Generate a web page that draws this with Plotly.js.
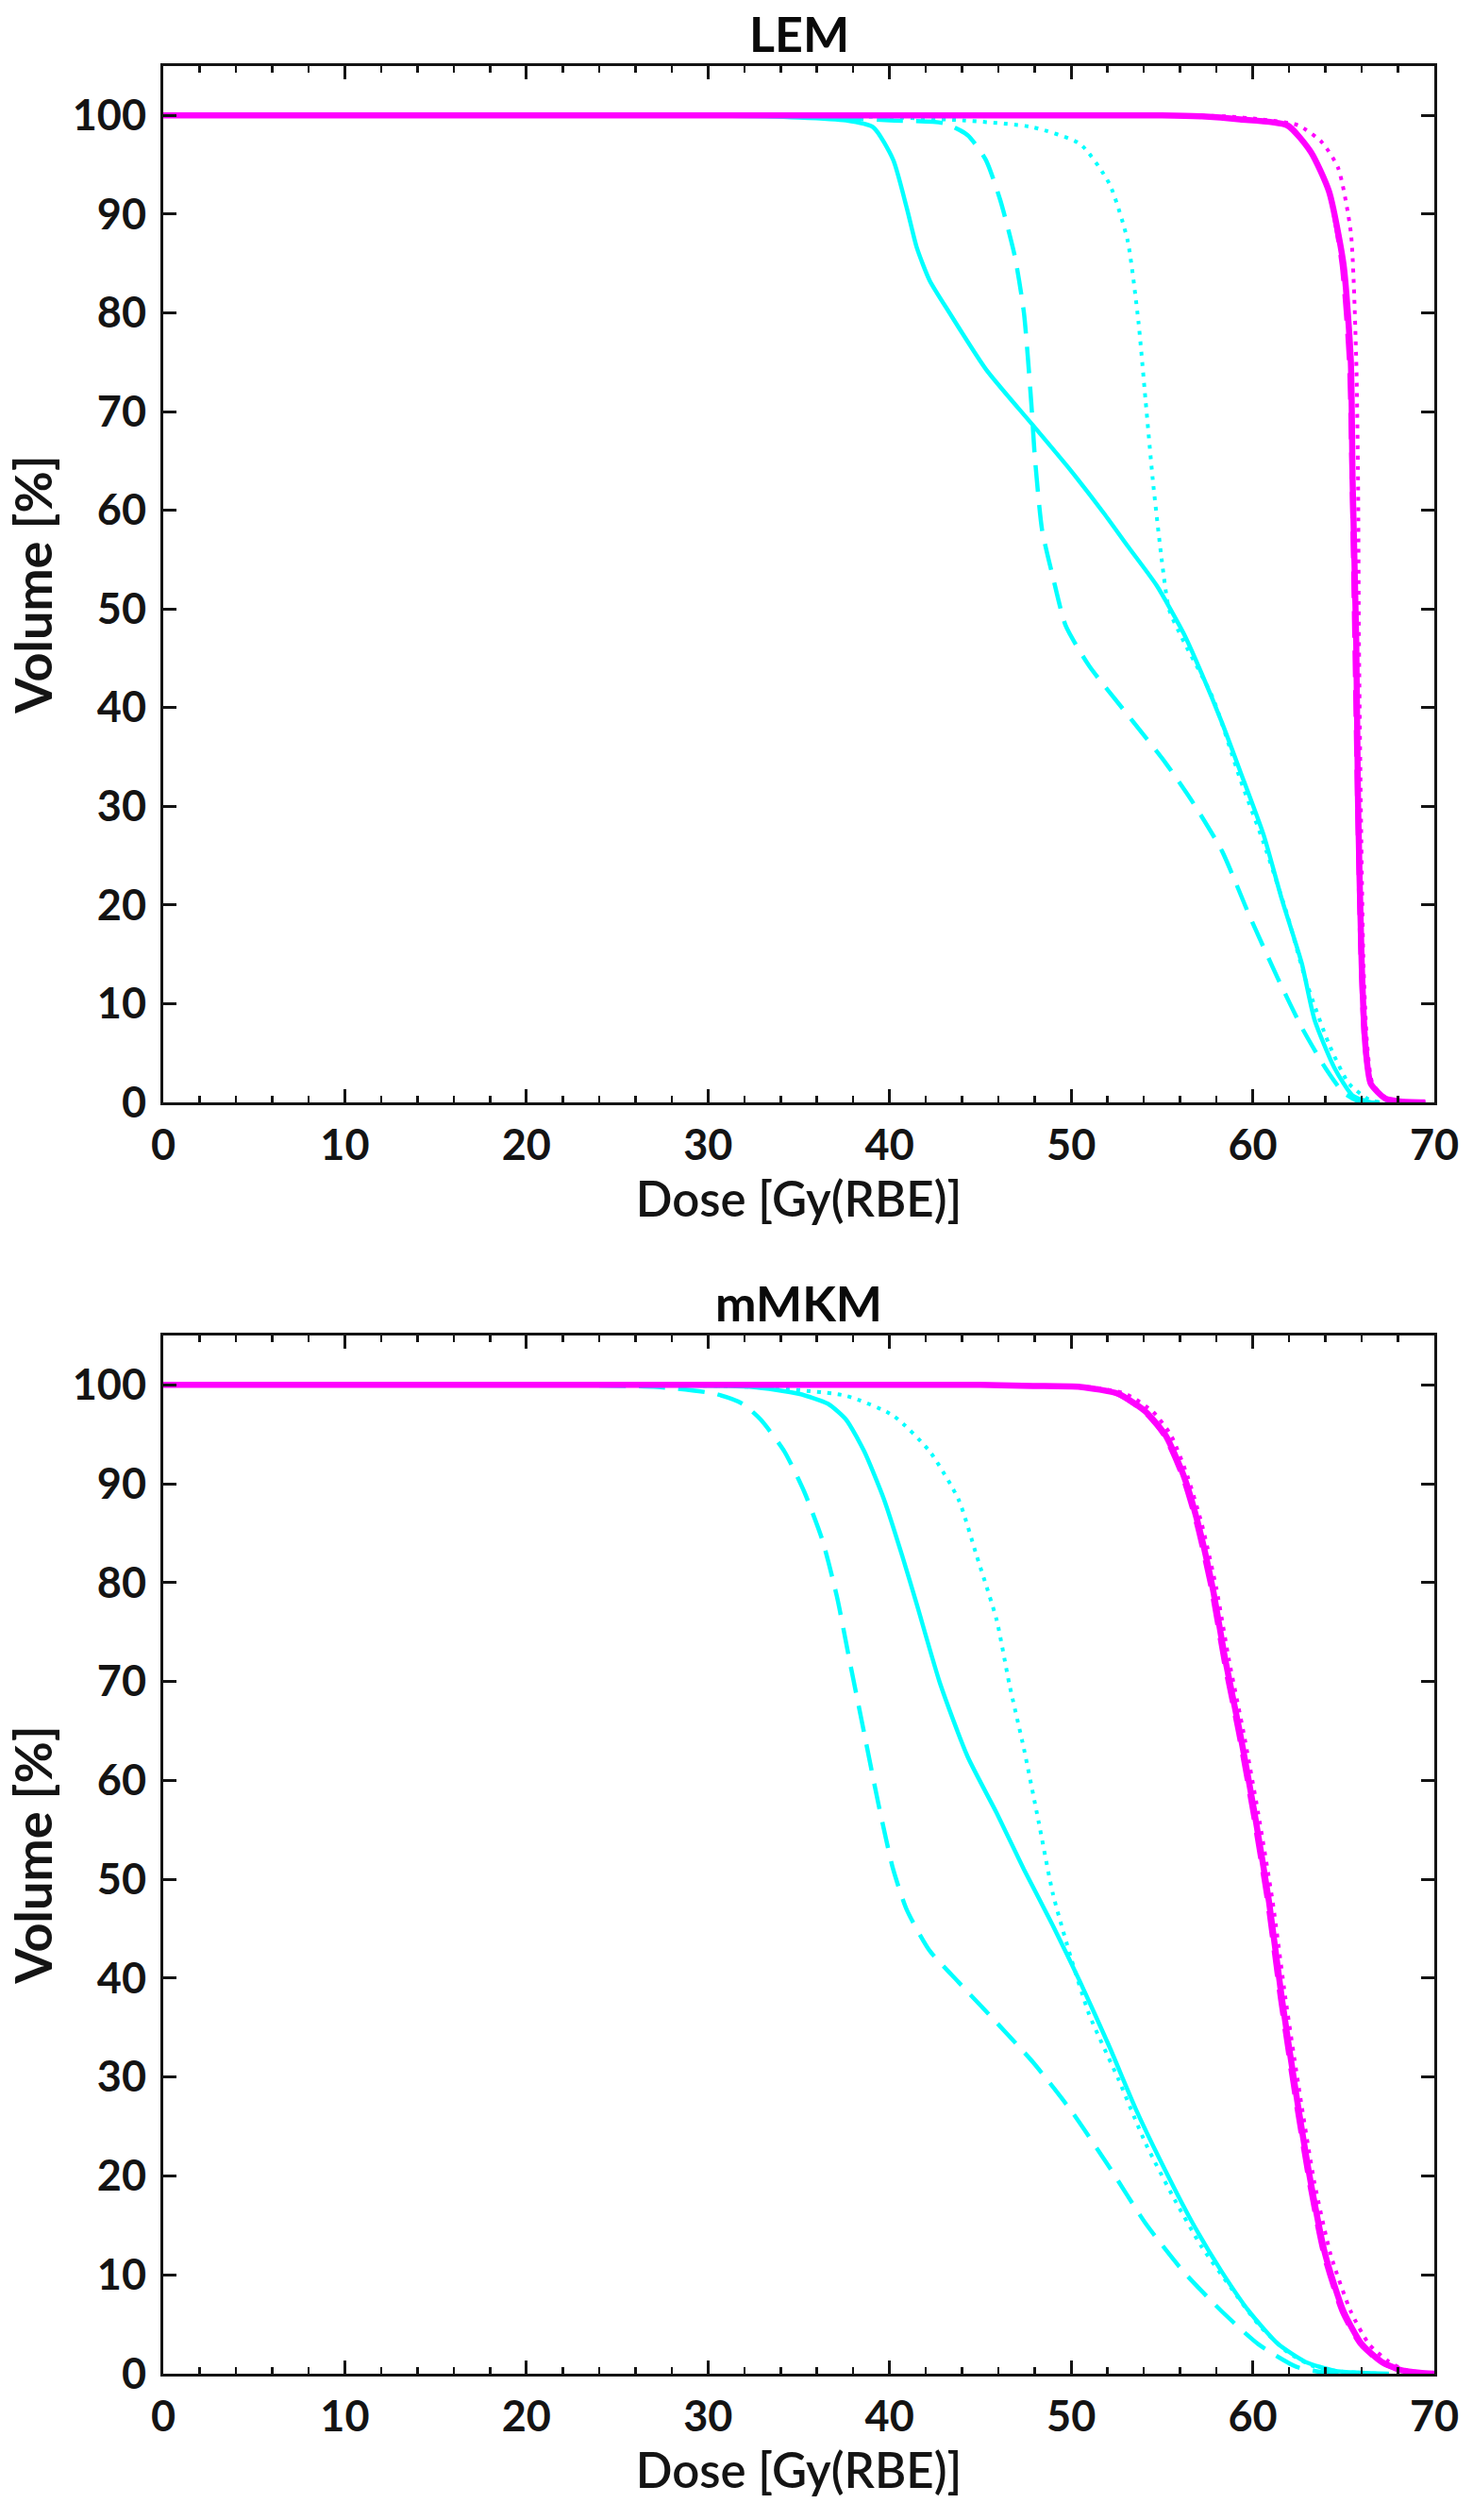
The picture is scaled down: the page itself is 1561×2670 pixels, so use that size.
<!DOCTYPE html>
<html>
<head>
<meta charset="utf-8">
<script src="https://cdn.plot.ly/plotly-3.0.1.min.js"></script>
<style>
  html, body { margin: 0; padding: 0; background: #fff; }
  #chart { width: 1561px; height: 2670px; }
</style>
</head>
<body>
<div id="chart"></div>
<script>
// LEM panel - dose [Gy(RBE)] vs volume [%]
const lemCyanSolidX = [0, 30, 35, 37.6, 39.1, 40.2, 40.95, 41.5, 42.2, 43.3, 45.3, 47.9, 49.9, 51.8, 53.1, 54.7, 56.2, 57.2, 58.3, 59.3, 60.6, 61.6, 62.7, 63.4, 64.5, 65.5, 66.5, 67];
const lemCyanSolidY = [100, 100, 99.8, 99.5, 98.8, 95.5, 90.6, 86.6, 83.3, 80, 74.3, 68.6, 64.2, 59.7, 56.4, 52.4, 47.5, 43.4, 38.5, 33.6, 27.1, 20.6, 14.1, 8.4, 3.5, 0.7, 0, 0];

const lemCyanDashX = [0, 35, 40, 43, 44.3, 45.3, 46.1, 46.9, 47.4, 47.8, 48.0, 48.4, 49.0, 49.7, 51.0, 53.1, 55.2, 56.7, 58.3, 59.8, 61.4, 62.7, 64.0, 65.0, 66.0, 67];
const lemCyanDashY = [100, 99.9, 99.5, 99.2, 98, 95.5, 91.4, 85.7, 80, 71, 65.4, 58, 53.2, 48.3, 44.2, 39.3, 34.4, 30.4, 25.5, 19, 12.5, 7.6, 3.5, 1, 0, 0];

const lemCyanDotX = [0, 38, 44, 47.9, 50.5, 52.1, 53.1, 53.7, 54.1, 54.5, 55.0, 55.4, 56.2, 57.8, 59.3, 60.6, 61.9, 62.9, 64.2, 65.3, 66.5, 67.5];
const lemCyanDotY = [100, 99.9, 99.5, 98.8, 97.1, 93.1, 87.4, 79.2, 71.1, 63, 54.8, 49.9, 46.7, 41, 32.8, 26.3, 19, 12.5, 5.9, 1.9, 0.2, 0];

const lemMagSolidX = [0, 55, 57.2, 59.3, 61.9, 63.2, 64.2, 65.0, 65.4, 65.5, 65.7, 65.8, 66.0, 66.2, 66.5, 67.3, 68.1, 69.5];
const lemMagSolidY = [100, 100, 99.9, 99.6, 99, 96.3, 92.3, 84.9, 75.2, 63, 46.7, 30.4, 14.1, 5.9, 1.9, 0.4, 0.1, 0];

const lemMagDashX = [0, 55, 57.2, 59.3, 61.9, 63.2, 64.2, 64.9, 65.3, 65.45, 65.6, 65.75, 65.95, 66.15, 66.5, 67.3, 68.1, 69.5];
const lemMagDashY = [100, 100, 99.9, 99.6, 99, 96.3, 92.3, 84.9, 75.2, 63, 46.7, 30.4, 14.1, 5.9, 1.9, 0.4, 0.1, 0];

const lemMagDotX = [0, 56, 58.5, 60.5, 62.5, 63.8, 64.7, 65.4, 65.7, 65.8, 65.85, 65.95, 66.1, 66.3, 66.6, 67.4, 68.2, 69.5];
const lemMagDotY = [100, 100, 99.9, 99.6, 99, 97.3, 94.7, 88.2, 75.2, 63, 46.7, 30.4, 14.1, 5.9, 1.9, 0.4, 0.1, 0];

// mMKM panel
const mkmCyanSolidX = [0, 25, 32.4, 35.0, 36.6, 37.6, 38.6, 39.7, 40.7, 41.5, 42.8, 44.3, 45.9, 47.4, 49.0, 50.5, 52.1, 53.6, 55.2, 56.7, 58.3, 59.8, 61.4, 62.9, 64.5, 66.0, 67.5];
const mkmCyanSolidY = [100, 100, 99.8, 99.1, 98.1, 96.5, 93.3, 88.4, 82.7, 77.8, 69.7, 62.4, 56.7, 51, 45.3, 39.6, 33.1, 26.6, 20.5, 15.2, 10.3, 6.3, 3, 1.2, 0.3, 0.1, 0];

const mkmCyanDashX = [0, 20, 27.2, 30.4, 31.9, 32.9, 34.2, 35.3, 36.3, 37.1, 37.8, 38.6, 39.4, 40.2, 40.95, 42.2, 43.8, 45.9, 47.9, 50.0, 52.1, 54.1, 56.2, 58.3, 60.3, 62.4, 64.0, 65.5];
const mkmCyanDashY = [100, 100, 99.8, 99.1, 98.1, 96.5, 93.3, 89.2, 84.3, 78.6, 72.1, 64.8, 57.5, 51, 46.9, 42.8, 39.6, 35.5, 31.5, 26.6, 20.9, 15.2, 10.3, 6.3, 3, 0.7, 0.1, 0];

const mkmCyanDotX = [0, 25, 32.4, 37.6, 40.2, 42.2, 43.8, 44.8, 45.9, 46.6, 47.4, 48.2, 49.0, 50.0, 51.0, 52.6, 54.1, 55.7, 57.2, 58.8, 60.3, 61.9, 63.4, 65.0, 67];
const mkmCyanDotY = [100, 100, 99.8, 98.9, 96.9, 93.3, 88.4, 82.7, 76.2, 69.7, 63.2, 55.9, 48.5, 42, 36.3, 29.8, 23.3, 17.6, 12.8, 8.7, 5, 2.2, 0.7, 0.2, 0];

const mkmMagSolidX = [0, 45, 47.9, 50.5, 52.6, 54.1, 55.2, 56.2, 57.0, 57.8, 58.5, 59.3, 60.1, 60.9, 61.6, 62.4, 63.2, 64.0, 65.0, 66.0, 67.1, 68.1, 69.2, 70];
const mkmMagSolidY = [100, 100, 99.9, 99.8, 99.1, 97.3, 94.9, 90.8, 85.9, 79.4, 72.1, 64.8, 56.7, 47.7, 38, 28.2, 19.3, 12, 6.3, 3, 1.2, 0.4, 0.1, 0];

const mkmMagDashX = [0, 45, 47.9, 50.5, 52.5, 54.0, 55.1, 56.1, 56.9, 57.7, 58.4, 59.2, 60.0, 60.8, 61.5, 62.3, 63.1, 63.9, 64.9, 65.9, 67.0, 68.0, 69.1, 70];
const mkmMagDashY = [100, 100, 99.9, 99.8, 99.1, 97.3, 94.9, 90.8, 85.9, 79.4, 72.1, 64.8, 56.7, 47.7, 38, 28.2, 19.3, 12, 6.3, 3, 1.2, 0.4, 0.1, 0];

const mkmMagDotX = [0, 45, 48.2, 50.9, 53.0, 54.5, 55.5, 56.4, 57.2, 58.0, 58.7, 59.5, 60.3, 61.1, 61.8, 62.6, 63.4, 64.3, 65.4, 66.4, 67.5, 68.4, 69.4, 70];
const mkmMagDotY = [100, 100, 99.9, 99.8, 99.1, 97.3, 94.9, 90.8, 85.9, 79.4, 72.1, 64.8, 56.7, 47.7, 38, 28.2, 19.3, 12, 6.3, 3, 1.2, 0.4, 0.1, 0];

const xTicks = [0, 10, 20, 30, 40, 50, 60, 70];
const yTicks = [0, 10, 20, 30, 40, 50, 60, 70, 80, 90, 100];

const CYAN = "#00ffff";
const MAGENTA = "#ff00ff";
const INK = "#141414";
const FONT = "Lato, 'Open Sans', sans-serif";

const line = (x, y, color, dash, width, xa, ya) => ({
    x: x,
    y: y,
    xaxis: xa,
    yaxis: ya,
    type: "scatter",
    mode: "lines",
    line: { color: color, dash: dash, width: width, shape: "spline", smoothing: 0.6 },
    hoverinfo: "skip",
    showlegend: false,
});

const panel = (d, xa, ya) => [
    line(d.cDotX, d.cDotY, CYAN, "4px,7px", 4, xa, ya),
    line(d.cDashX, d.cDashY, CYAN, "28px,14px", 4.5, xa, ya),
    line(d.cSolX, d.cSolY, CYAN, "solid", 4.5, xa, ya),
    line(d.mDotX, d.mDotY, MAGENTA, "4px,7px", 4, xa, ya),
    line(d.mDashX, d.mDashY, MAGENTA, "28px,14px", 4.5, xa, ya),
    line(d.mSolX, d.mSolY, MAGENTA, "solid", 6.5, xa, ya),
];

let series = [
    ...panel({
        cSolX: lemCyanSolidX, cSolY: lemCyanSolidY,
        cDashX: lemCyanDashX, cDashY: lemCyanDashY,
        cDotX: lemCyanDotX, cDotY: lemCyanDotY,
        mSolX: lemMagSolidX, mSolY: lemMagSolidY,
        mDashX: lemMagDashX, mDashY: lemMagDashY,
        mDotX: lemMagDotX, mDotY: lemMagDotY,
    }, "x", "y"),
    ...panel({
        cSolX: mkmCyanSolidX, cSolY: mkmCyanSolidY,
        cDashX: mkmCyanDashX, cDashY: mkmCyanDashY,
        cDotX: mkmCyanDotX, cDotY: mkmCyanDotY,
        mSolX: mkmMagSolidX, mSolY: mkmMagSolidY,
        mDashX: mkmMagDashX, mDashY: mkmMagDashY,
        mDotX: mkmMagDotX, mDotY: mkmMagDotY,
    }, "x2", "y2"),
];

const xAxis = (anchor) => ({
    anchor: anchor,
    range: [0, 70],
    tickvals: xTicks,
    ticks: "inside",
    ticklen: 14,
    tickwidth: 3,
    tickcolor: INK,
    minor: { dtick: 2, ticks: "inside", ticklen: 7, tickwidth: 2.5, tickcolor: INK },
    showline: true,
    linewidth: 3,
    linecolor: INK,
    mirror: "ticks",
    showgrid: false,
    zeroline: false,
    ticklabelstandoff: 4,
    tickfont: { family: FONT, size: 45, color: INK, weight: "bold" },
    title: { text: "Dose [Gy(RBE)]", standoff: 10, font: { family: FONT, size: 51, color: INK, weight: 600 } },
});

const yAxis = (anchor, domain) => ({
    anchor: anchor,
    domain: domain,
    range: [0, 105],
    tickvals: yTicks,
    ticks: "inside",
    ticklen: 14,
    tickwidth: 3,
    tickcolor: INK,
    showline: true,
    linewidth: 3,
    linecolor: INK,
    mirror: "ticks",
    showgrid: false,
    zeroline: false,
    ticklabelstandoff: 6,
    tickfont: { family: FONT, size: 45, color: INK, weight: "bold" },
    title: { text: "Volume [%]", standoff: 4, font: { family: FONT, size: 54, color: INK, weight: "bold" } },
});

let layout = {
    width: 1561,
    height: 2670,
    margin: { l: 173, r: 41, t: 70, b: 155, pad: 0 },
    paper_bgcolor: "#ffffff",
    plot_bgcolor: "#ffffff",
    showlegend: false,
    xaxis: xAxis("y"),
    yaxis: yAxis("x", [0.5509, 1]),
    xaxis2: xAxis("y2"),
    yaxis2: yAxis("x2", [0, 0.4499]),
    annotations: [
        { text: "LEM", xref: "paper", yref: "paper", x: 0.5, y: 1.0143, yanchor: "middle", showarrow: false,
          font: { family: FONT, size: 52, color: "#0a0a0a", weight: "bold" } },
        { text: "mMKM", xref: "paper", yref: "paper", x: 0.5, y: 0.4642, yanchor: "middle", showarrow: false,
          font: { family: FONT, size: 52, color: "#0a0a0a", weight: "bold" } },
    ],
};

let config = { staticPlot: true, displayModeBar: false };
Plotly.newPlot("chart", series, layout, config);
</script>
</body>
</html>
